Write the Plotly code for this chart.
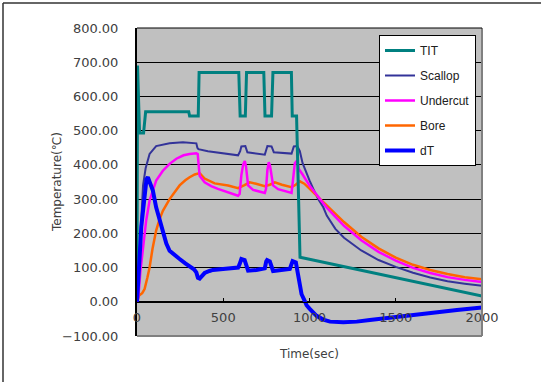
import plotly.graph_objects as go

# ---- data ----
tit_t = [0, 3, 15, 38, 50, 300, 305, 355, 360, 590, 598, 628, 635, 735, 742, 780, 788, 895, 900, 925, 945, 2000]
tit_v = [15, 690, 493, 493, 555, 555, 543, 543, 670, 670, 543, 543, 670, 670, 543, 543, 670, 670, 543, 543, 130, 17]

scallop_t = [0, 8, 15, 25, 35, 50, 73, 111, 150, 189, 266, 344, 350, 356, 411, 489, 586, 598, 605, 628, 640,
             741, 750, 756, 780, 793, 896, 903, 909, 929, 944, 960, 983, 1000, 1022, 1050, 1080, 1100, 1150,
             1200, 1300, 1400, 1500, 1600, 1700, 1800, 1900, 2000]
scallop_v = [0, 80, 180, 280, 340, 390, 432, 455, 460, 463, 466, 463, 450, 446, 440, 434, 428, 440, 454, 455, 437,
             430, 445, 455, 454, 437, 433, 445, 454, 455, 440, 405, 374, 355, 330, 300, 276, 252, 213,
             187, 150, 122, 102, 85, 71, 60, 53, 47]

undercut_t = [0, 8, 20, 34, 53, 73, 111, 150, 189, 228, 270, 305, 344, 352, 356, 363, 392, 430, 469, 530, 586,
              595, 605, 615, 625, 632, 644, 673, 741, 748, 756, 764, 772, 789, 818, 896, 905, 915, 929, 938,
              960, 1000, 1100, 1200, 1300, 1400, 1500, 1600, 1700, 1800, 1900, 2000]
undercut_v = [0, 15, 90, 150, 237, 296, 354, 383, 403, 418, 428, 432, 434, 432, 395, 368, 349, 338, 330, 319, 310,
              315, 370, 400, 411, 395, 340, 327, 318, 330, 385, 408, 395, 340, 329, 318, 360, 405, 413, 388,
              372, 340, 275, 222, 180, 146, 120, 99, 84, 72, 64, 58]

bore_t = [0, 12, 30, 44, 60, 73, 90, 111, 130, 150, 189, 220, 247, 280, 305, 335, 363, 392, 421, 450, 528, 586,
          620, 654, 690, 741, 770, 799, 840, 896, 920, 944, 970, 1000, 1100, 1200, 1300, 1400, 1500, 1600,
          1700, 1800, 1900, 2000]
bore_v = [0, 18, 25, 37, 70, 100, 155, 208, 240, 266, 300, 322, 340, 355, 364, 372, 376, 360, 354, 346, 340, 332,
          340, 349, 345, 338, 342, 349, 342, 335, 342, 352, 345, 330, 283, 233, 190, 156, 129, 108,
          93, 81, 72, 66]

dt_t = [0, 8, 14, 25, 34, 45, 55, 63, 75, 92, 111, 131, 150, 170, 189, 220, 247, 280, 305, 330, 344, 353, 363,
        375, 392, 420, 440, 499, 586, 595, 605, 624, 635, 644, 692, 741, 749, 754, 770, 780, 789, 886, 895,
        902, 921, 929, 934, 944, 954, 970, 983, 1000, 1041, 1080, 1119, 1196, 1274, 1350, 1467, 1561, 1661,
        1760, 1855, 2000]
dt_v = [0, 50, 120, 220, 270, 330, 358, 364, 350, 325, 276, 237, 198, 170, 149, 135, 125, 112, 105, 95, 86, 70, 68,
        74, 84, 90, 93, 96, 100, 110, 125, 122, 100, 91, 93, 98, 118, 122, 118, 100, 90, 96, 110,
        119, 115, 90, 70, 45, 22, 5, -10, -20, -41, -52, -58, -60, -58, -53, -46, -40, -34,
        -29, -24, -17]

x_ticks = [0, 500, 1000, 1500, 2000]
y_ticks = [-100, 0, 100, 200, 300, 400, 500, 600, 700, 800]

series = [
    ("Scallop", scallop_t, scallop_v, "#333399", 2, 2),
    ("Bore", bore_t, bore_v, "#FF6600", 2.5, 4),
    ("Undercut", undercut_t, undercut_v, "#FF00FF", 2.5, 3),
    ("TIT", tit_t, tit_v, "#008080", 3, 1),
    ("dT", dt_t, dt_v, "#0000FF", 4, 5),
]

fig = go.Figure()
for name, t, v, col, w, rank in series:
    fig.add_trace(go.Scatter(x=t, y=v, mode="lines", name=name, legendgroup=name, legendrank=rank,
                             line=dict(color=col, width=w)))

L, R, T, B = 137, 482, 28, 336
W, H = 541, 382

fig.update_layout(
    width=W, height=H,
    margin=dict(l=L, r=W - R, t=T, b=H - B, pad=0),
    paper_bgcolor="white", plot_bgcolor="#C0C0C0",
    font=dict(family="DejaVu Sans", size=13, color="#404040"),
    showlegend=True,
    legend=dict(x=(379 - L) / (R - L), y=(B - 35) / (B - T), xanchor="left", yanchor="top",
                bgcolor="white", bordercolor="black", borderwidth=1,
                font=dict(family="Liberation Sans", size=12, color="#202020"),
                tracegroupgap=6, traceorder="grouped", itemwidth=30),
    xaxis=dict(range=[0, 2000], tickvals=x_ticks, ticktext=[str(v) for v in x_ticks],
               anchor="free", position=100 / 900, showgrid=False, zeroline=False,
               showline=True, linecolor="black", linewidth=1,
               ticks="inside", ticklen=4, tickcolor="black", ticklabelstandoff=4,
               tickfont=dict(family="DejaVu Sans", size=13, color="#404040")),
    yaxis=dict(range=[-100, 800], tickvals=y_ticks, tickformat=".2f",
               showgrid=True, gridcolor="black", gridwidth=1, zeroline=False,
               showline=True, linecolor="black", linewidth=2, ticks="",
               ticklabelstandoff=14,
               tickfont=dict(family="DejaVu Sans", size=13, color="#404040")),
    shapes=[
        # plot area shadow border (right and bottom)
        dict(type="line", xref="x domain", yref="y domain", x0=1, x1=1, y0=0, y1=1,
             line=dict(color="#808080", width=2)),
        dict(type="line", xref="x domain", yref="y domain", x0=0, x1=1, y0=0, y1=0,
             line=dict(color="#808080", width=2)),
        dict(type="line", xref="x domain", yref="y domain", x0=0, x1=1, y0=1, y1=1,
             line=dict(color="black", width=1)),
        # outer chart border (top, left)
        dict(type="line", xref="paper", yref="paper", x0=(3 - L) / (R - L), x1=(W - L) / (R - L),
             y0=(B - 3) / (B - T), y1=(B - 3) / (B - T), line=dict(color="#333333", width=1.5)),
        dict(type="line", xref="paper", yref="paper", x0=(3 - L) / (R - L), x1=(3 - L) / (R - L),
             y0=(B - 3) / (B - T), y1=(B - H) / (B - T), line=dict(color="#333333", width=1.5)),
    ],
    annotations=[
        dict(text="Temperature(℃)", xref="paper", yref="paper", x=(57 - L) / (R - L), y=0.5,
             xanchor="center", yanchor="middle",
             textangle=-90, showarrow=False, font=dict(family="DejaVu Sans", size=12, color="#404040")),
        dict(text="Time(sec)", xref="paper", yref="paper", x=(309 - L) / (R - L), y=(B - 354) / (B - T),
             xanchor="center", yanchor="middle",
             showarrow=False, font=dict(family="DejaVu Sans", size=12, color="#404040")),
    ],
)

fig.write_html("out.html")
